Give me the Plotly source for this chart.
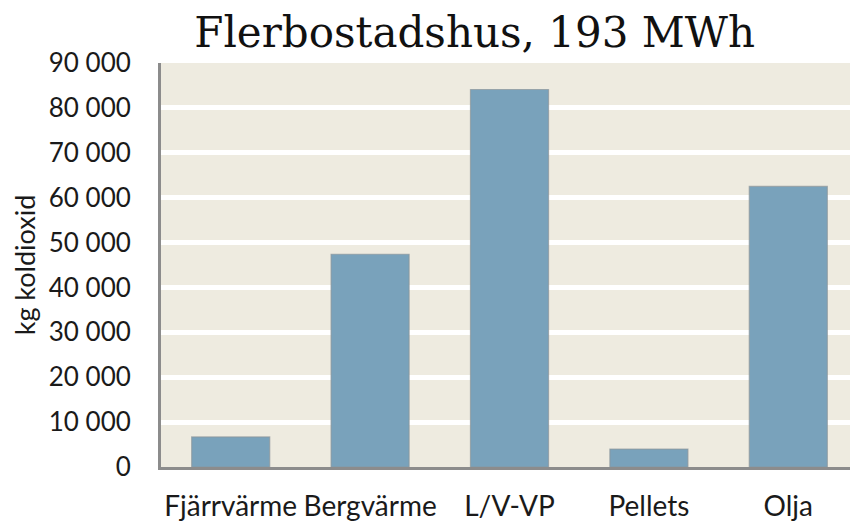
import plotly.graph_objects as go

categories = ["Fjärrvärme", "Bergvärme", "L/V-VP", "Pellets", "Olja"]
values = [6700, 47400, 84100, 4000, 62500]
y_ticks = [0, 10000, 20000, 30000, 40000, 50000, 60000, 70000, 80000, 90000]

fig = go.Figure(
    go.Bar(
        x=categories,
        y=values,
        marker=dict(color="#79A2BB", line=dict(color="rgba(140,150,155,0.7)", width=1.2)),
        width=0.56,
    )
)

fig.update_layout(
    width=850,
    height=514,
    margin=dict(l=153, r=0, t=55, b=55),
    paper_bgcolor="white",
    plot_bgcolor="#EEEBE0",
    separators=", ",
    showlegend=False,
    title=dict(
        text="Flerbostadshus, 193 MWh",
        font=dict(family="DejaVu Serif", size=42, color="#111111"),
        x=0.549,
        xanchor="center",
        xref="container",
        y=0.953,
        yanchor="middle",
        yref="container",
    ),
    font=dict(family="Lato", color="#1a1a1a"),
)

fig.update_yaxes(
    range=[0, 90000],
    tickvals=y_ticks,
    tickformat=",d",
    tickfont=dict(size=26, family="Lato", color="#1a1a1a"),
    showgrid=True,
    gridcolor="white",
    gridwidth=5,
    zeroline=False,
    showline=True,
    linecolor="#8c8c8c",
    linewidth=3,
    ticks="outside",
    ticklen=22,
    tickcolor="rgba(0,0,0,0)",
    automargin=False,
    title=dict(text="kg koldioxid", font=dict(size=27, family="Lato", color="#1a1a1a"), standoff=10),
)

fig.update_xaxes(
    tickfont=dict(size=28, family="Lato", color="#1a1a1a"),
    showline=True,
    linecolor="#8c8c8c",
    linewidth=3,
    ticks="outside",
    ticklen=12,
    tickcolor="rgba(0,0,0,0)",
    showgrid=False,
    automargin=False,
)

fig.write_html("out.html")
